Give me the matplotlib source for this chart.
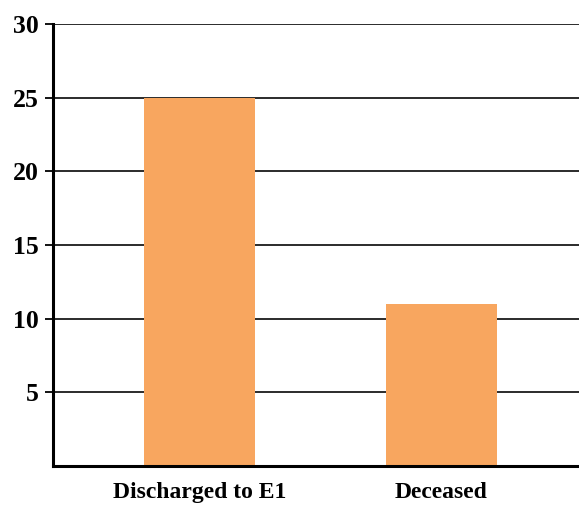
import matplotlib
matplotlib.use('Agg')
from matplotlib import pyplot as plt

categories = ['Discharged to E1', 'Deceased']
counts = [25, 11]
y_ticks = [5, 10, 15, 20, 25, 30]

plt.rcParams['font.family'] = ['Liberation Serif', 'DejaVu Serif']
plt.rcParams['font.weight'] = 'bold'

fig = plt.figure(figsize=(5.79, 5.05), dpi=100)
ax = fig.add_axes([0.0924, 0.0772, 0.9076, 0.8753])

x = range(len(categories))
ax.bar(x, counts, width=0.46, color='#F8A65F', zorder=2)

ax.set_xlim(-0.603, 1.568)
ax.set_ylim(0, 30)
ax.set_yticks(y_ticks)
ax.set_xticks(list(x))
ax.set_xticklabels(categories)

ax.yaxis.grid(True, color='#1a1a1a', linewidth=1.3, zorder=1)
ax.set_axisbelow(True)

for side in ['top', 'right']:
    ax.spines[side].set_visible(False)
for side in ['left', 'bottom']:
    ax.spines[side].set_linewidth(2.2)
    ax.spines[side].set_color('black')

ax.tick_params(axis='y', length=6, width=1.3, labelsize=18.5, pad=4.5)
ax.tick_params(axis='x', length=0, labelsize=17, pad=11.5)

fig.savefig('out.png', dpi=100)
